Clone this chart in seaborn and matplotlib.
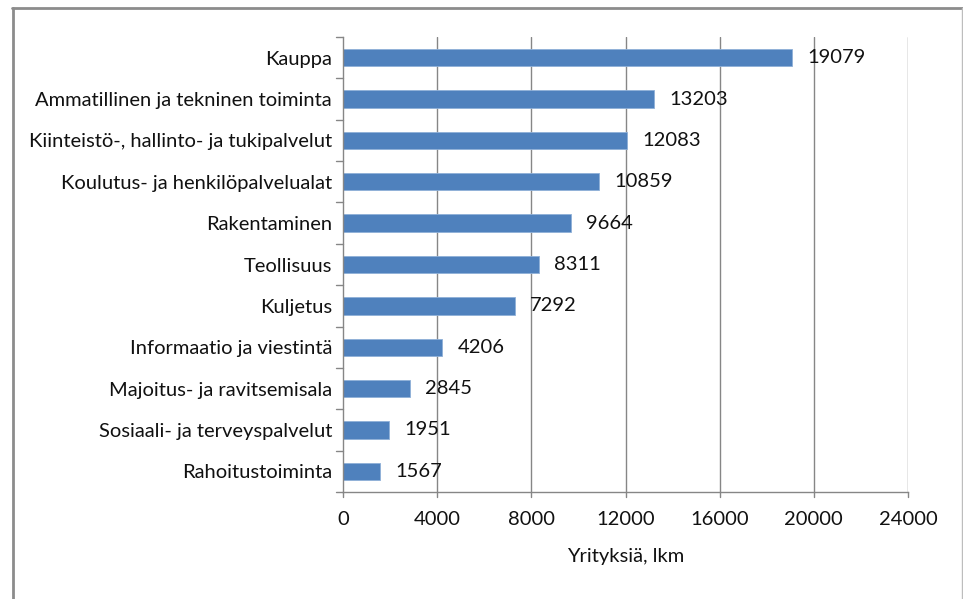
import matplotlib
matplotlib.use("Agg")
import matplotlib.pyplot as plt
import seaborn as sns
import pandas as pd
from matplotlib.lines import Line2D

# toimialat ja yritysten lukumäärät
toimialat = ["Kauppa", "Ammatillinen ja tekninen toiminta",
             "Kiinteistö-, hallinto- ja tukipalvelut",
             "Koulutus- ja henkilöpalvelualat", "Rakentaminen",
             "Teollisuus", "Kuljetus", "Informaatio ja viestintä",
             "Majoitus- ja ravitsemisala", "Sosiaali- ja terveyspalvelut",
             "Rahoitustoiminta"]
yrityksia = [19079, 13203, 12083, 10859, 9664, 8311, 7292, 4206, 2845, 1951, 1567]
x_ticks = [0, 4000, 8000, 12000, 16000, 20000, 24000]

df = pd.DataFrame({"toimiala": toimialat, "lkm": yrityksia})

sns.set_style("white")
plt.rcParams["font.family"] = ["Lato", "DejaVu Sans"]
fs = 14.5

W, H = 963, 599
fig = plt.figure(figsize=(W / 100, H / 100), dpi=100)
ax = fig.add_axes([343 / W, 1 - 492 / H, (908 - 343) / W, (492 - 37) / H])

bar_col = "#4F81BD"
sns.barplot(data=df, y="toimiala", x="lkm", orient="h", color=bar_col,
            width=0.42, saturation=1, edgecolor="#8FB0D8", linewidth=0.6, ax=ax)

ax.set_xlim(0, 24000)
ax.set_ylim(len(toimialat) - 0.5, -0.5)
ax.set_xticks(x_ticks)
ax.set_xticklabels([str(t) for t in x_ticks], fontsize=fs, color="#111111")
ax.set_yticks(range(len(toimialat)))
ax.set_yticklabels(toimialat, fontsize=fs, color="#111111")
ax.tick_params(axis="y", length=0, pad=8)
ax.tick_params(axis="x", length=0, pad=14)

# Excel-tyyliset väliviivat kategorioiden välissä
for b in [i - 0.5 for i in range(len(toimialat) + 1)]:
    ax.plot([-0.012, 0], [b, b], transform=ax.get_yaxis_transform(),
            color="#868686", lw=1, clip_on=False)
for t in x_ticks:
    ax.plot([t, t], [0, -0.012], transform=ax.get_xaxis_transform(),
            color="#868686", lw=1, clip_on=False)

for t in x_ticks[1:]:
    ax.axvline(t, color="#868686", lw=1, zorder=0)

for s in ["top", "right"]:
    ax.spines[s].set_visible(False)
for s in ["left", "bottom"]:
    ax.spines[s].set_color("#868686")
    ax.spines[s].set_linewidth(1)

for i, v in enumerate(yrityksia):
    ax.text(v + 650, i, str(v), va="center", ha="left", fontsize=fs, color="#111111")

ax.set_ylabel("")
ax.set_xlabel("Yrityksiä, lkm", fontsize=fs, labelpad=14, color="#111111")

# kehys
fig.add_artist(Line2D([12.5 / W, 12.5 / W], [0, 1 - 8 / H], color="#8c8c8c", lw=2))
fig.add_artist(Line2D([12 / W, 1], [1 - 8 / H, 1 - 8 / H], color="#8c8c8c", lw=2))
fig.add_artist(Line2D([961.5 / W, 961.5 / W], [0, 1 - 8 / H], color="#bdbdbd", lw=1))

fig.savefig("out.png", dpi=100)
